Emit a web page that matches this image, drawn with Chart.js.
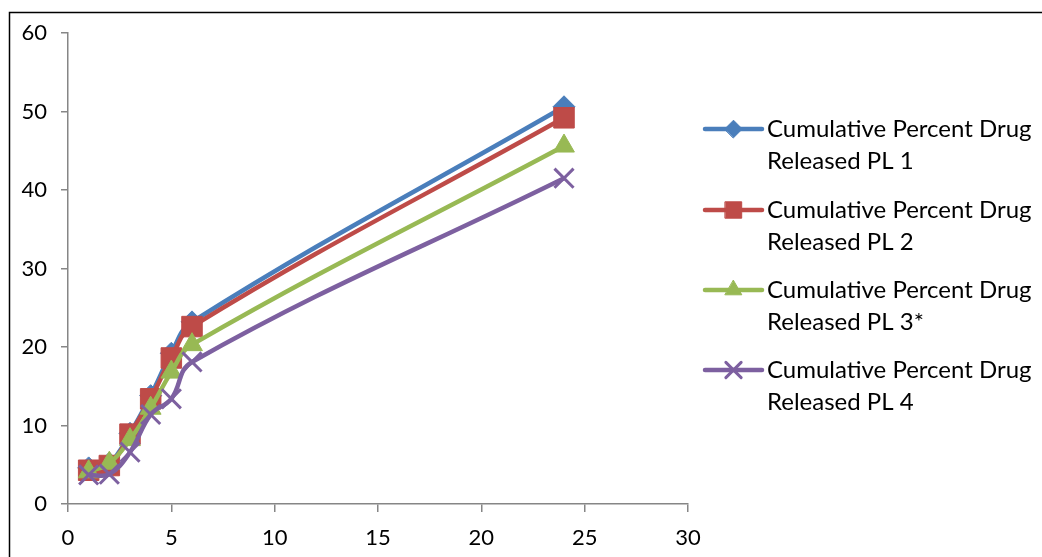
<!DOCTYPE html>
<html>
<head>
<meta charset="utf-8">
<script src="https://cdn.jsdelivr.net/npm/chart.js@4.4.1/dist/chart.umd.min.js"></script>
<style>
  html, body { margin: 0; padding: 0; background: #fff; }
  #wrap { width: 1042px; height: 557px; position: relative; }
</style>
</head>
<body>
<div id="wrap"><canvas id="c" width="1042" height="557"></canvas></div>
<script>
// Sampling times (hours)
const hours = [1, 2, 3, 4, 5, 6, 24];

// Cumulative percent drug released, per formulation
const releasePL1 = [4.6, 5.2, 9.0, 13.8, 19.2, 23.2, 50.6];
const releasePL2 = [4.3, 4.9, 8.9, 13.4, 18.6, 22.6, 49.2];
const releasePL3 = [4.1, 5.2, 8.2, 12.2, 16.8, 20.3, 45.6];
const releasePL4 = [3.7, 3.8, 6.6, 11.4, 13.4, 18.1, 41.5];

const seriesNames = [
  ['Cumulative Percent Drug', 'Released PL 1'],
  ['Cumulative Percent Drug', 'Released PL 2'],
  ['Cumulative Percent Drug', 'Released PL 3*'],
  ['Cumulative Percent Drug', 'Released PL 4']
];

const xTicks = [0, 5, 10, 15, 20, 25, 30];
const yTicks = [0, 10, 20, 30, 40, 50, 60];

const FONT = 'Lato, "Open Sans", "DejaVu Sans", sans-serif';
const AXIS_GREY = '#868686';

function pairs(values) {
  return hours.map((h, i) => ({ x: h, y: values[i] }));
}

const styles = [
  { color: '#4A7EBB', pointStyle: 'rectRot', radius: 11, pbw: 1 },
  { color: '#BE4B48', pointStyle: 'rect', radius: 14.5, pbw: 1 },
  { color: '#98B954', pointStyle: 'triangle', radius: 12, pbw: 1 },
  { color: '#7D60A0', pointStyle: 'crossRot', radius: 13.5, pbw: 3 }
];

const seriesValues = [releasePL1, releasePL2, releasePL3, releasePL4];

// later series are painted over earlier ones
const datasets = seriesValues.map((vals, i) => ({
  label: seriesNames[i].join(' '),
  data: pairs(vals),
  order: seriesValues.length - 1 - i,
  borderColor: styles[i].color,
  backgroundColor: styles[i].color,
  borderWidth: 4.5,
  tension: 0.4,
  pointStyle: styles[i].pointStyle,
  pointRadius: styles[i].radius,
  pointBackgroundColor: styles[i].color,
  pointBorderColor: styles[i].color,
  pointBorderWidth: styles[i].pbw,
  fill: false
}));

// White page with a thin frame around the whole chart
const framePlugin = {
  id: 'frame',
  beforeDraw(chart) {
    const ctx = chart.ctx;
    ctx.save();
    ctx.fillStyle = '#fff';
    ctx.fillRect(0, 0, chart.width, chart.height);
    ctx.strokeStyle = '#000';
    ctx.lineWidth = 1.5;
    ctx.strokeRect(9.5, 12.5, chart.width + 20, chart.height + 20);
    ctx.restore();
  }
};

// Two-line legend on the right side
const sideLegend = {
  id: 'sideLegend',
  afterDraw(chart) {
    const ctx = chart.ctx;
    const x0 = 705, x1 = 762, textX = 767;
    const tops = [129, 210, 290, 370];
    const lineGap = 32;
    ctx.save();
    chart.data.datasets.forEach((ds, i) => {
      const y = tops[i];
      ctx.strokeStyle = ds.borderColor;
      ctx.lineWidth = 4.5;
      ctx.lineCap = 'round';
      ctx.beginPath();
      ctx.moveTo(x0, y);
      ctx.lineTo(x1, y);
      ctx.stroke();
      ctx.fillStyle = ds.pointBackgroundColor;
      ctx.strokeStyle = ds.pointBorderColor;
      ctx.lineWidth = ds.pointBorderWidth;
      Chart.helpers.drawPoint(ctx, {
        pointStyle: ds.pointStyle,
        radius: ds.pointRadius * 0.8,
        borderWidth: ds.pointBorderWidth
      }, (x0 + x1) / 2, y);
      ctx.fillStyle = '#000';
      ctx.font = '24px ' + FONT;
      ctx.textBaseline = 'middle';
      ctx.textAlign = 'left';
      seriesNames[i].forEach((line, k) => {
        ctx.fillText(line, textX, y + k * lineGap);
      });
    });
    ctx.restore();
  }
};

new Chart(document.getElementById('c'), {
  type: 'line',
  data: { datasets },
  plugins: [framePlugin, sideLegend],
  options: {
    responsive: false,
    animation: false,
    events: [],
    layout: { padding: { left: 10, right: 354, top: 33, bottom: 0 } },
    plugins: {
      legend: { display: false },
      tooltip: { enabled: false }
    },
    scales: {
      x: {
        type: 'linear',
        min: 0, max: 30,
        afterBuildTicks(scale) { scale.ticks = xTicks.map(v => ({ value: v })); },
        afterFit(scale) { scale.height = 53; },
        grid: {
          display: true, drawOnChartArea: false, drawTicks: true,
          tickLength: 8, color: AXIS_GREY, lineWidth: 1.5
        },
        border: { display: true, color: AXIS_GREY, width: 1.5 },
        ticks: {
          color: '#000', padding: 13, maxRotation: 0,
          font: { family: FONT, size: 22 }
        }
      },
      y: {
        type: 'linear',
        min: 0, max: 60,
        afterBuildTicks(scale) { scale.ticks = yTicks.map(v => ({ value: v })); },
        afterFit(scale) { scale.width = 58; },
        grid: {
          display: true, drawOnChartArea: false, drawTicks: true,
          tickLength: 7, color: AXIS_GREY, lineWidth: 1.5
        },
        border: { display: true, color: AXIS_GREY, width: 1.5 },
        ticks: {
          color: '#000', padding: 14,
          font: { family: FONT, size: 22 }
        }
      }
    }
  }
});
</script>
</body>
</html>
